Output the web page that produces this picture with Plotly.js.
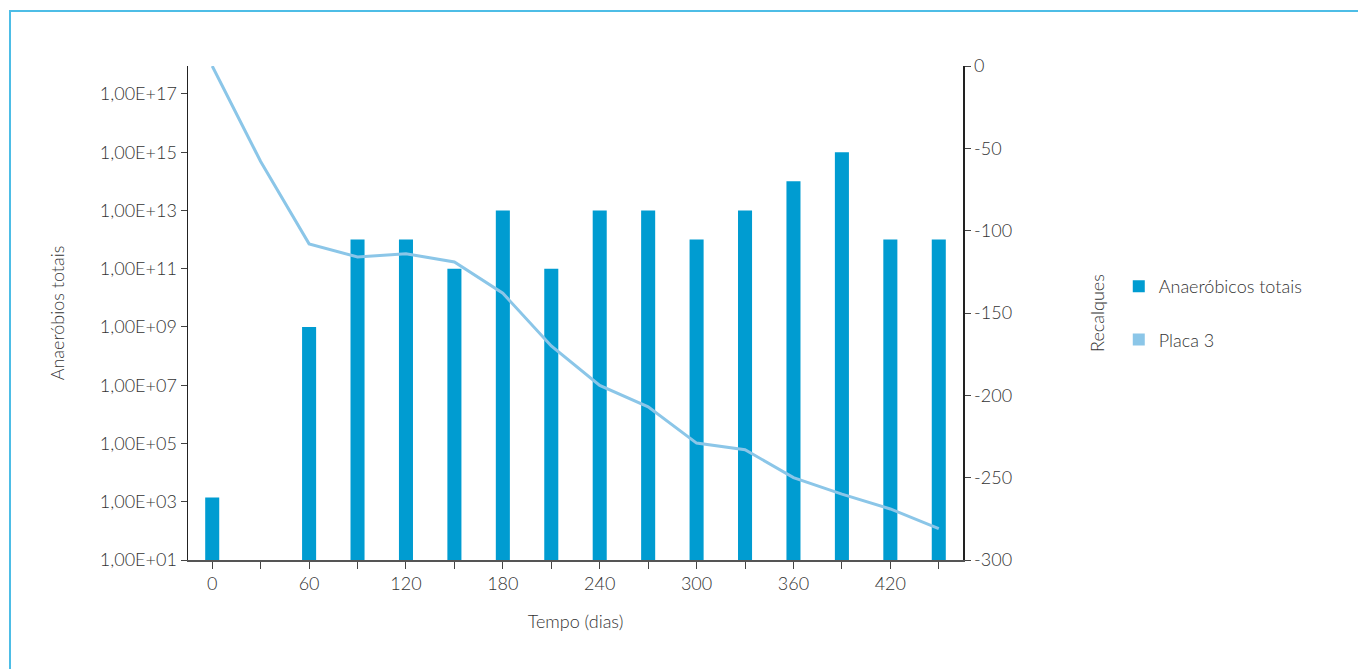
<!DOCTYPE html>
<html>
<head>
<meta charset="utf-8">
<script src="https://cdn.plot.ly/plotly-3.0.1.min.js"></script>
<style>
  html, body { margin: 0; padding: 0; background: #ffffff; }
  #grafico { position: absolute; left: 0; top: 0; width: 1358px; height: 669px; }
  #moldura {
    position: absolute; left: 9px; top: 10px; width: 1360px; height: 700px;
    border: 2px solid #4dbde6; box-sizing: border-box; pointer-events: none;
  }
</style>
</head>
<body>
<div id="grafico"></div>
<div id="moldura"></div>
<script>
// Tempo de monitorização (dias)
const dias = [0, 30, 60, 90, 120, 150, 180, 210, 240, 270, 300, 330, 360, 390, 420, 450];
// Anaeróbios totais (escala logarítmica)
const anaerobios = [1.4e3, null, 1e9, 1e12, 1e12, 1e11, 1e13, 1e11, 1e13, 1e13, 1e12, 1e13, 1e14, 1e15, 1e12, 1e12];
// Recalques da placa 3
const placa3 = [0, -58, -108, -116, -114, -119, -138, -170, -194, -207, -229, -233, -250, -260, -269, -281];

// Marcas dos eixos
const diasTicks = [0, 30, 60, 90, 120, 150, 180, 210, 240, 270, 300, 330, 360, 390, 420, 450];
const diasRotulos = ['0', '', '60', '', '120', '', '180', '', '240', '', '300', '', '360', '', '420', ''];
const logTicks = [1e1, 1e3, 1e5, 1e7, 1e9, 1e11, 1e13, 1e15, 1e17];
const logRotulos = ['1,00E+01', '1,00E+03', '1,00E+05', '1,00E+07', '1,00E+09', '1,00E+11', '1,00E+13', '1,00E+15', '1,00E+17'];
const recalqueTicks = [0, -50, -100, -150, -200, -250, -300];
const recalqueRotulos = ['0', '-50', '-100', '-150', '-200', '-250', '-300'];

const corBarra = '#009cd1';
const corLinha = '#8bc6e8';
const corTexto = '#333333';
const fonte = { family: 'Lato, "Open Sans", sans-serif', size: 18, color: corTexto, weight: 300 };

const traces = [
  {
    type: 'bar', name: 'Anaeróbicos totais',
    x: dias, y: anaerobios, width: 8.7,
    marker: { color: corBarra },
    legendgroup: 'a'
  },
  {
    type: 'scatter', mode: 'lines', name: 'Placa 3',
    x: dias, y: placa3, yaxis: 'y2',
    line: { color: corLinha, width: 3 },
    showlegend: false
  },
  {
    // entrada de legenda quadrada para a série Placa 3
    type: 'bar', name: 'Placa 3',
    x: [null], y: [null], yaxis: 'y2',
    marker: { color: corLinha },
    legendgroup: 'b', hoverinfo: 'skip'
  }
];

const layout = {
  width: 1358, height: 669,
  margin: { l: 188, r: 395, t: 66, b: 109 },
  paper_bgcolor: '#ffffff', plot_bgcolor: '#ffffff',
  font: fonte,
  showlegend: true,
  barmode: 'overlay',
  legend: {
    x: 1.201, y: 0.5, xanchor: 'left', yanchor: 'middle',
    font: fonte, traceorder: 'grouped', tracegroupgap: 27,
    bgcolor: 'rgba(0,0,0,0)'
  },
  xaxis: {
    range: [-15, 465], showgrid: false, zeroline: false,
    showline: true, linecolor: '#555555', linewidth: 1.5,
    ticks: 'outside', ticklen: 7, tickcolor: '#444444', tickwidth: 1,
    tickmode: 'array', tickvals: diasTicks, ticktext: diasRotulos,
    tickfont: fonte,
    title: { text: 'Tempo (dias)', font: fonte, standoff: 22 }
  },
  yaxis: {
    type: 'log', range: [1, 17.96], showgrid: false, zeroline: false,
    showline: true, linecolor: '#222222', linewidth: 1.5,
    ticks: 'outside', ticklen: 6, tickcolor: '#444444', tickwidth: 1,
    tickmode: 'array', tickvals: logTicks, ticktext: logRotulos,
    tickfont: fonte,
    title: { text: 'Anaeróbios totais', font: fonte, standoff: 30 }
  },
  yaxis2: {
    overlaying: 'y', side: 'right', range: [-300, 0],
    showgrid: false, zeroline: false,
    showline: true, linecolor: '#222222', linewidth: 1.5,
    ticks: 'outside', ticklen: 6, tickcolor: '#444444', tickwidth: 1,
    tickmode: 'array', tickvals: recalqueTicks, ticktext: recalqueRotulos,
    tickfont: fonte,
    title: { text: 'Recalques', font: fonte, standoff: 80 }
  }
};

Plotly.newPlot('grafico', traces, layout, { displayModeBar: false, staticPlot: true });
</script>
</body>
</html>
